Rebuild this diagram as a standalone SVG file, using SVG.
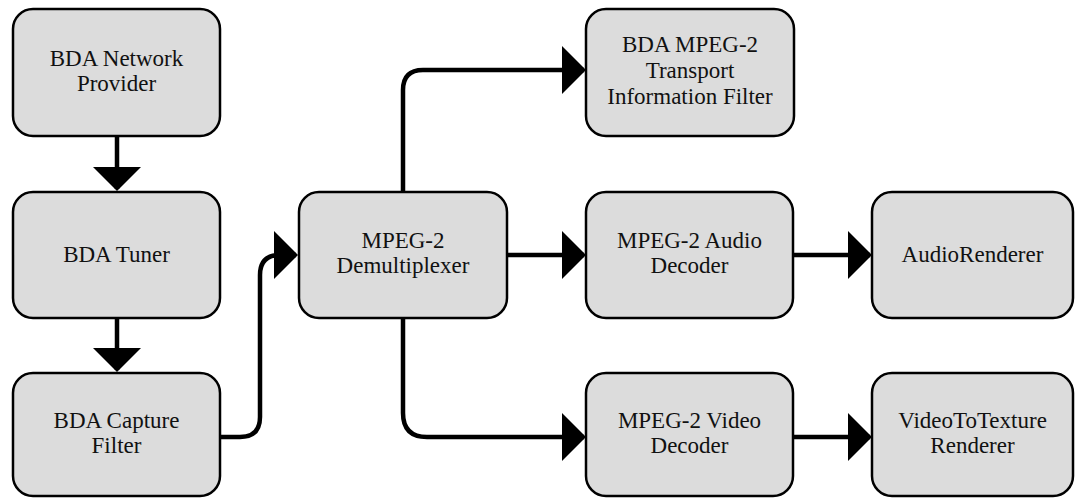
<svg xmlns="http://www.w3.org/2000/svg" width="1075" height="498" viewBox="0 0 1075 498">
<style>
.box{fill:#dcdcdc;stroke:#000;stroke-width:2.5}
.lbl{font-family:"Liberation Serif","Times New Roman",serif;font-size:23px;fill:#111;text-anchor:middle}
.conn{fill:none;stroke:#000;stroke-width:4.5;marker-end:url(#arr)}
</style>
<defs>
<marker id="arr" markerUnits="userSpaceOnUse" markerWidth="26" markerHeight="50" refX="22" refY="24" orient="auto" overflow="visible">
<path d="M0,0 L24,24 L0,48 Z" fill="#000"/>
</marker>
</defs>
<g id="connectors">
<path class="conn" d="M117,136 V189"/>
<path class="conn" d="M117,318 V370"/>
<path class="conn" d="M220,437 H240 Q260,437 260,417 V275 Q260,255 280,255 H296"/>
<path class="conn" d="M403,192 V90 Q403,70 423,70 H584"/>
<path class="conn" d="M507,255 H584"/>
<path class="conn" d="M403,318 V413 Q403,437 427,437 H584"/>
<path class="conn" d="M793,255 H870"/>
<path class="conn" d="M793,437 H870"/>
</g>
<g id="np"><rect class="box" x="13" y="9" width="207" height="127" rx="20"/>
<text class="lbl" x="116.5" y="66">BDA Network</text><text class="lbl" x="116.5" y="91">Provider</text></g>
<g id="tuner"><rect class="box" x="13" y="192" width="207" height="126" rx="20"/>
<text class="lbl" x="116.5" y="262">BDA Tuner</text></g>
<g id="capture"><rect class="box" x="13" y="373" width="207" height="123" rx="20"/>
<text class="lbl" x="116.5" y="428">BDA Capture</text><text class="lbl" x="116.5" y="453">Filter</text></g>
<g id="demux"><rect class="box" x="299" y="192" width="208" height="126" rx="20"/>
<text class="lbl" x="403" y="248">MPEG-2</text><text class="lbl" x="403" y="273">Demultiplexer</text></g>
<g id="tif"><rect class="box" x="586" y="9" width="208" height="127" rx="20"/>
<text class="lbl" x="690" y="52">BDA MPEG-2</text><text class="lbl" x="690" y="78">Transport</text><text class="lbl" x="690" y="104">Information Filter</text></g>
<g id="adec"><rect class="box" x="586" y="192" width="207" height="126" rx="20"/>
<text class="lbl" x="689.5" y="248">MPEG-2 Audio</text><text class="lbl" x="689.5" y="273">Decoder</text></g>
<g id="vdec"><rect class="box" x="586" y="373" width="207" height="123" rx="20"/>
<text class="lbl" x="689.5" y="428">MPEG-2 Video</text><text class="lbl" x="689.5" y="453">Decoder</text></g>
<g id="arend"><rect class="box" x="872" y="192" width="201" height="126" rx="20"/>
<text class="lbl" x="972.5" y="262">AudioRenderer</text></g>
<g id="v2t"><rect class="box" x="872" y="373" width="201" height="123" rx="20"/>
<text class="lbl" x="972.5" y="428">VideoToTexture</text><text class="lbl" x="972.5" y="453">Renderer</text></g>
</svg>
